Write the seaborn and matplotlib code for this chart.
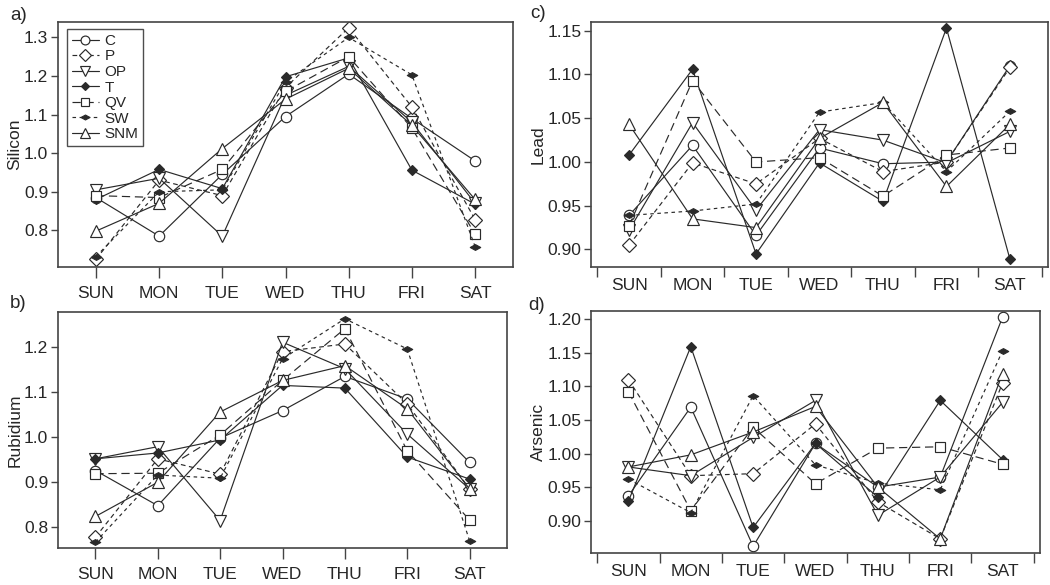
import numpy as np
import pandas as pd
import matplotlib
matplotlib.use("Agg")
import matplotlib.pyplot as plt
from matplotlib.path import Path
import seaborn as sns

days = ["SUN", "MON", "TUE", "WED", "THU", "FRI", "SAT"]
sites = ["C", "P", "OP", "T", "QV", "SW", "SNM"]

silicon_C   = [0.885, 0.785, 0.945, 1.095, 1.205, 1.090, 0.980]
silicon_P   = [0.725, 0.930, 0.890, 1.170, 1.325, 1.120, 0.828]
silicon_OP  = [0.905, 0.935, 0.785, 1.150, 1.225, 1.080, 0.870]
silicon_T   = [0.880, 0.958, 0.908, 1.198, 1.247, 0.956, 0.868]
silicon_QV  = [0.890, 0.885, 0.958, 1.160, 1.250, 1.065, 0.790]
silicon_SW  = [0.732, 0.900, 0.905, 1.185, 1.300, 1.203, 0.758]
silicon_SNM = [0.798, 0.870, 1.012, 1.140, 1.220, 1.072, 0.880]

rubidium_C   = [0.926, 0.848, 0.998, 1.059, 1.135, 1.085, 0.944]
rubidium_P   = [0.778, 0.952, 0.918, 1.190, 1.207, 1.074, 0.885]
rubidium_OP  = [0.952, 0.979, 0.815, 1.211, 1.152, 1.007, 0.885]
rubidium_T   = [0.952, 0.965, 0.994, 1.115, 1.109, 0.956, 0.907]
rubidium_QV  = [0.919, 0.920, 1.005, 1.126, 1.241, 0.970, 0.816]
rubidium_SW  = [0.767, 0.916, 0.909, 1.174, 1.263, 1.196, 0.770]
rubidium_SNM = [0.824, 0.900, 1.056, 1.126, 1.159, 1.063, 0.885]

lead_C   = [0.939, 1.019, 0.916, 1.016, 0.998, 1.000, 1.110]
lead_P   = [0.905, 0.999, 0.975, 1.027, 0.989, 1.000, 1.108]
lead_OP  = [0.922, 1.045, 0.945, 1.037, 1.025, 0.999, 1.035]
lead_T   = [1.008, 1.106, 0.895, 0.999, 0.955, 1.153, 0.889]
lead_QV  = [0.927, 1.093, 1.000, 1.005, 0.961, 1.008, 1.016]
lead_SW  = [0.939, 0.944, 0.952, 1.057, 1.068, 0.989, 1.058]
lead_SNM = [1.043, 0.935, 0.925, 1.027, 1.068, 0.972, 1.043]

arsenic_C   = [0.937, 1.069, 0.862, 1.015, 0.950, 0.965, 1.203]
arsenic_P   = [1.110, 0.967, 0.970, 1.044, 0.928, 0.873, 1.105]
arsenic_OP  = [0.980, 0.967, 1.024, 1.079, 0.908, 0.965, 1.076]
arsenic_T   = [0.929, 1.159, 0.890, 1.015, 0.935, 1.079, 0.991]
arsenic_QV  = [1.092, 0.915, 1.039, 0.955, 1.008, 1.010, 0.984]
arsenic_SW  = [0.962, 0.912, 1.086, 0.983, 0.956, 0.946, 1.153]
arsenic_SNM = [0.980, 0.998, 1.032, 1.070, 0.950, 0.873, 1.119]

silicon = [silicon_C, silicon_P, silicon_OP, silicon_T, silicon_QV, silicon_SW, silicon_SNM]
rubidium = [rubidium_C, rubidium_P, rubidium_OP, rubidium_T, rubidium_QV, rubidium_SW, rubidium_SNM]
lead = [lead_C, lead_P, lead_OP, lead_T, lead_QV, lead_SW, lead_SNM]
arsenic = [arsenic_C, arsenic_P, arsenic_OP, arsenic_T, arsenic_QV, arsenic_SW, arsenic_SNM]

sns.set_style("white")
plt.rcParams["font.family"] = ["Liberation Sans", "DejaVu Sans"]

flat_diamond = Path([(-1, 0), (0, 0.55), (1, 0), (0, -0.55), (-1, 0)],
                    [Path.MOVETO, Path.LINETO, Path.LINETO, Path.LINETO, Path.CLOSEPOLY])

LC = "#2a2a2a"
styles = {
    "C":   dict(marker="o", ms=7.5, mfc="white", ls="-"),
    "P":   dict(marker="D", ms=6.8, mfc="white", ls=(0, (4, 3))),
    "OP":  dict(marker="v", ms=8, mfc="white", ls="-"),
    "T":   dict(marker="D", ms=5, mfc=LC, ls="-"),
    "QV":  dict(marker="s", ms=7.5, mfc="white", ls=(0, (7, 4))),
    "SW":  dict(marker=flat_diamond, ms=7.5, mfc=LC, ls=(0, (3, 3))),
    "SNM": dict(marker="^", ms=8, mfc="white", ls="-"),
}

W, H = 1050, 585
fig = plt.figure(figsize=(W / 100, H / 100), dpi=100)

def add_ax(l, r, t, b):
    return fig.add_axes([l / W, 1 - b / H, (r - l) / W, (b - t) / H])

panels = [
    (add_ax(58, 513, 22, 267), silicon, "Silicon", (0.705, 1.34), np.arange(0.8, 1.31, 0.1), "%.1f", False, "a)", (10, 16)),
    (add_ax(58, 507, 312, 548), rubidium, "Rubidium", (0.754, 1.278), np.arange(0.8, 1.21, 0.1), "%.1f", False, "b)", (10, 304)),
    (add_ax(591, 1048, 22, 267), lead, "Lead", (0.880, 1.160), np.arange(0.90, 1.151, 0.05), "%.2f", True, "c)", (530, 13)),
    (add_ax(591, 1040, 311, 553), arsenic, "Arsenic", (0.852, 1.212), np.arange(0.90, 1.201, 0.05), "%.2f", True, "d)", (528, 306)),
]

xpos = np.arange(len(days))
for ax, data, ylabel, ylim, yticks, fmt, between, letter, lpos in panels:
    for name, vals in zip(sites, data):
        st = styles[name]
        sns.lineplot(x=xpos, y=vals, ax=ax, color=LC, linewidth=0.85,
                     linestyle=st["ls"], marker=st["marker"], markersize=st["ms"],
                     markerfacecolor=st["mfc"], markeredgecolor=LC, markeredgewidth=0.85,
                     sort=False, errorbar=None, label=name, legend=False)
    ax.set_xlim(-0.6, 6.6)
    ax.set_ylim(*ylim)
    ax.set_yticks(yticks)
    ax.set_yticklabels([fmt % v for v in yticks])
    ax.set_xticks(xpos)
    ax.set_xticklabels(days)
    ax.set_ylabel(ylabel, fontsize=12.5, labelpad=1)
    ax.set_xlabel("")
    for sp in ax.spines.values():
        sp.set_color("#444444")
        sp.set_linewidth(1.2)
    ax.tick_params(axis="y", which="major", direction="out", length=5, width=1,
                   color="#444444", labelsize=12.5, pad=2, left=True)
    if between:
        ax.set_xticks(np.arange(-0.5, 7.0, 1.0), minor=True)
        ax.tick_params(axis="x", which="major", length=0, labelsize=12.5, pad=8, bottom=True)
        ax.tick_params(axis="x", which="minor", direction="out", length=7, width=1,
                       color="#444444", bottom=True)
    else:
        ax.tick_params(axis="x", which="major", direction="out", length=8, width=1,
                       color="#444444", labelsize=12.5, pad=6, bottom=True)
    fig.text(lpos[0] / W, 1 - lpos[1] / H, letter, fontsize=13.5, va="center", ha="left")

ax_a = panels[0][0]
leg = ax_a.legend(loc="upper left", bbox_to_anchor=(0.02, 0.97), frameon=True,
                  fancybox=False, edgecolor="#222222", fontsize=11, labelspacing=0.1,
                  handlelength=1.8, handletextpad=0.35, borderpad=0.3, borderaxespad=0,
                  markerscale=0.85)
leg.get_frame().set_linewidth(1.0)

fig.savefig("out.png", dpi=100)
